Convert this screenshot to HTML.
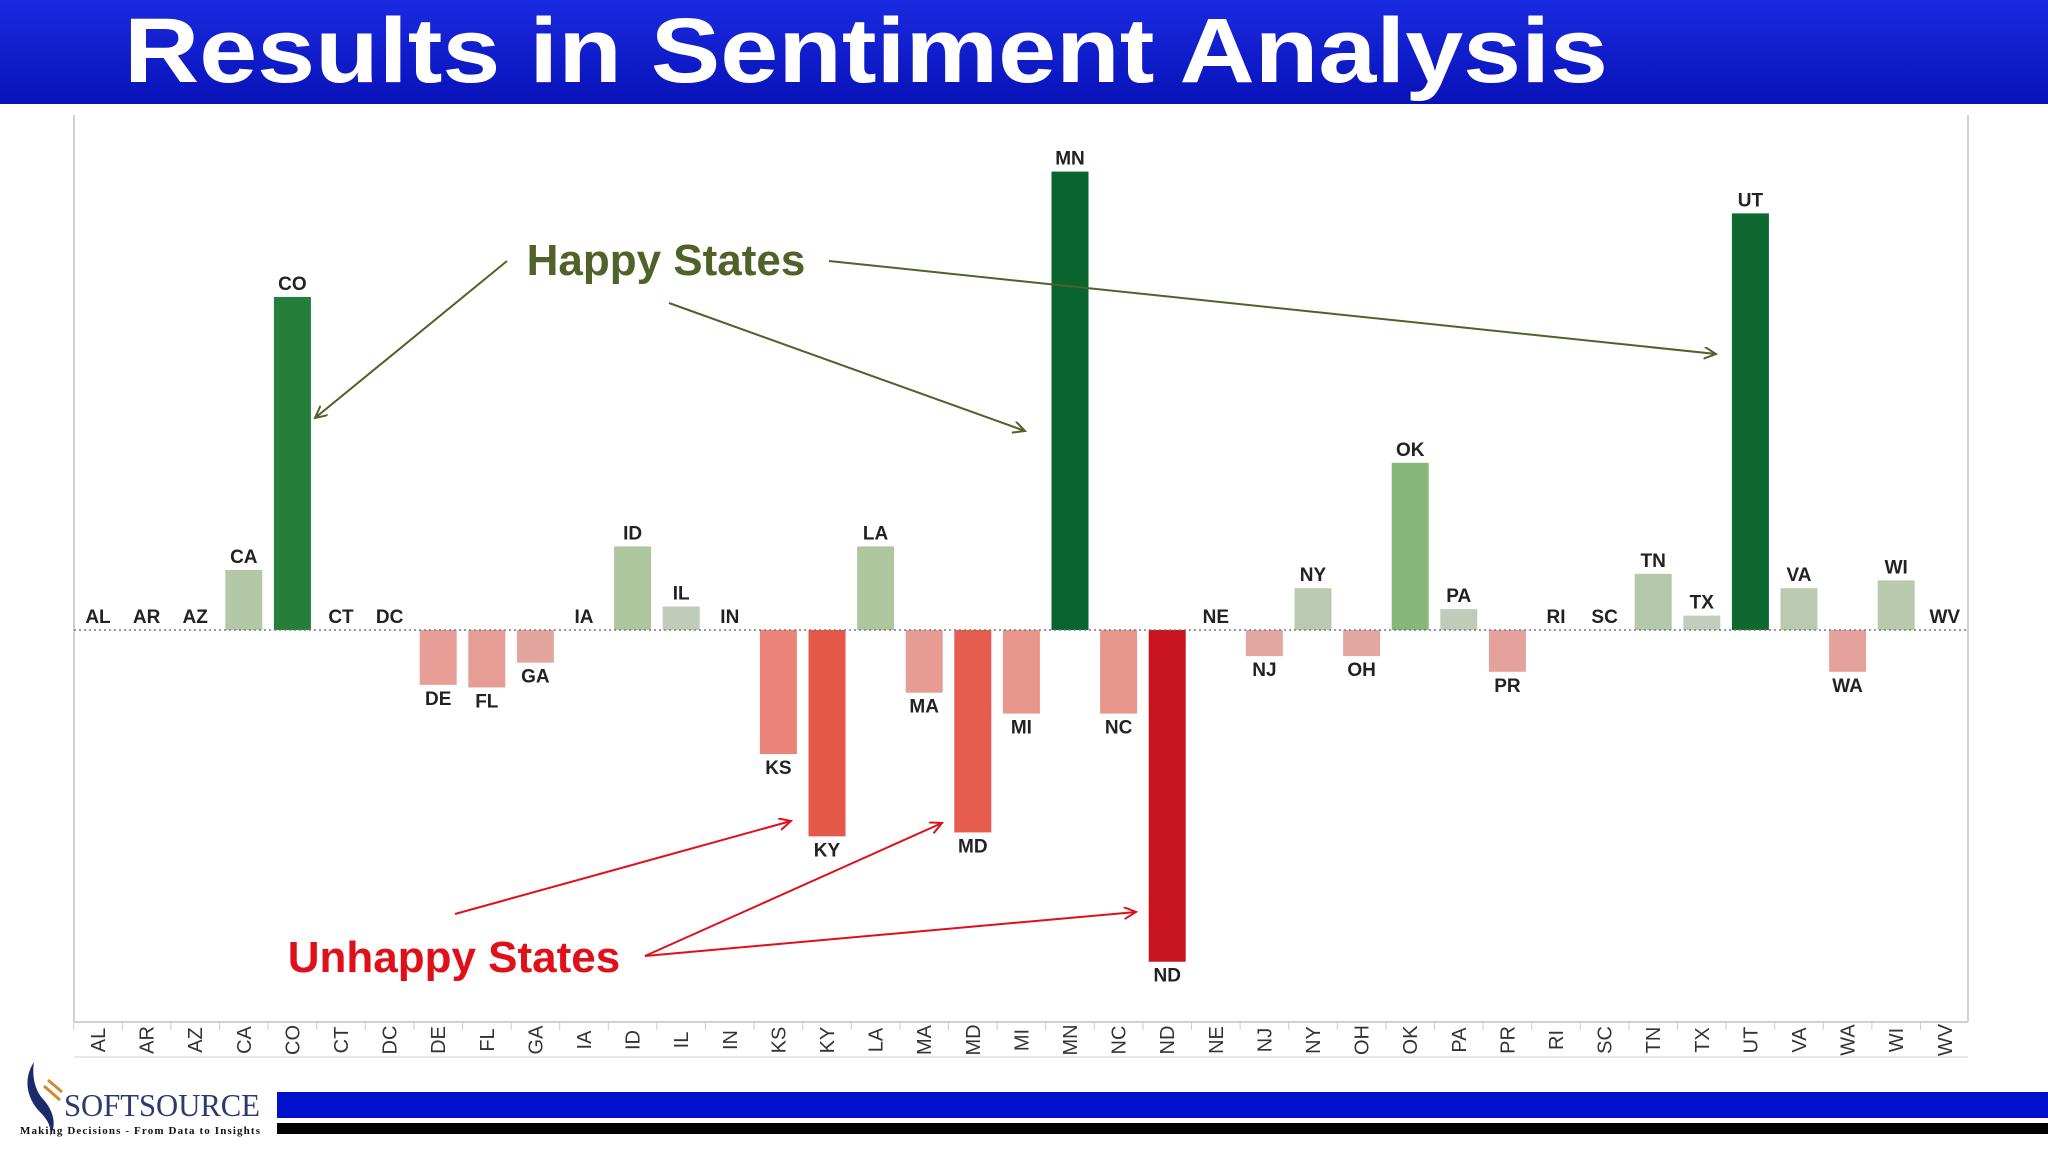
<!DOCTYPE html>
<html><head><meta charset="utf-8"><style>
html,body{margin:0;padding:0;background:#fff;width:2048px;height:1152px;overflow:hidden}
svg{display:block;font-family:"Liberation Sans",sans-serif}
</style></head><body>
<svg id="c" width="2048" height="1152" viewBox="0 0 2048 1152" xmlns="http://www.w3.org/2000/svg">
<defs>
<linearGradient id="tg" x1="0" y1="0" x2="0" y2="1"><stop offset="0" stop-color="#1a2ae0"/><stop offset="1" stop-color="#0812b8"/></linearGradient>
<marker id="ag" markerWidth="14" markerHeight="14" refX="12" refY="6" orient="auto" markerUnits="userSpaceOnUse"><path d="M0,0 L12,6 L0,12" fill="none" stroke="#4f6228" stroke-width="2"/></marker>
<marker id="ar" markerWidth="14" markerHeight="14" refX="12" refY="6" orient="auto" markerUnits="userSpaceOnUse"><path d="M0,0 L12,6 L0,12" fill="none" stroke="#e0101a" stroke-width="2"/></marker>
</defs>
<rect x="0" y="0" width="2048" height="104" fill="url(#tg)"/>
<text x="124" y="82" font-size="92" font-weight="bold" fill="#fff" textLength="1484" lengthAdjust="spacingAndGlyphs">Results in Sentiment Analysis</text>
<line x1="74" y1="115" x2="74" y2="1022" stroke="#d0d0d0" stroke-width="2"/>
<line x1="1968" y1="115" x2="1968" y2="1022" stroke="#d0d0d0" stroke-width="2"/>
<line x1="74" y1="1022" x2="1968" y2="1022" stroke="#d0d0d0" stroke-width="2"/>
<line x1="74" y1="1057" x2="1968" y2="1057" stroke="#e0e0e0" stroke-width="1.5"/>
<g id="bars"></g>
<line x1="74" y1="630" x2="1968" y2="630" stroke="#777" stroke-width="1.5" stroke-dasharray="2,3"/>
<g id="labels"></g>
<g id="ticks"></g>
<text x="666" y="275" font-size="44" font-weight="bold" fill="#4f6228" text-anchor="middle">Happy States</text>
<text x="454" y="972" font-size="44" font-weight="bold" fill="#e0101a" text-anchor="middle">Unhappy States</text>
<g fill="none" stroke="#4f6228" stroke-width="2">
<line x1="507" y1="261" x2="315" y2="418" marker-end="url(#ag)"/>
<line x1="669" y1="303" x2="1025" y2="431" marker-end="url(#ag)"/>
<line x1="829" y1="261" x2="1716" y2="354" marker-end="url(#ag)"/>
</g>
<g fill="none" stroke="#e0101a" stroke-width="2">
<line x1="455" y1="914" x2="791" y2="821" marker-end="url(#ar)"/>
<line x1="645" y1="956" x2="942" y2="823" marker-end="url(#ar)"/>
<line x1="645" y1="956" x2="1136" y2="912" marker-end="url(#ar)"/>
</g>
<g>
<path d="M34,1062 C22,1080 28,1100 40,1112 C48,1120 52,1128 50,1136 C58,1124 52,1108 42,1098 C34,1088 32,1074 34,1062Z" fill="#1a2a6a"/>
<path d="M44,1086 L60,1100 M48,1080 L62,1092" stroke="#d08a30" stroke-width="3"/>
<text x="64" y="1116" font-family="Liberation Serif,serif" font-size="32" fill="#2a3a70" textLength="196" lengthAdjust="spacingAndGlyphs">SOFTSOURCE</text>
<text x="20" y="1134" font-family="Liberation Serif,serif" font-size="11" font-weight="bold" fill="#111" textLength="240">Making Decisions - From Data to Insights</text>
</g>
<rect x="277" y="1092" width="1771" height="26" fill="#0010cc"/>
<rect x="277" y="1123" width="1771" height="11" fill="#000"/>
</svg>
<script>
const states=["AL","AR","AZ","CA","CO","CT","DC","DE","FL","GA","IA","ID","IL","IN","KS","KY","LA","MA","MD","MI","MN","NC","ND","NE","NJ","NY","OH","OK","PA","PR","RI","SC","TN","TX","UT","VA","WA","WI","WV"];
const sentiment=[0,0,0,46,255,0,0,-42,-44,-25,0,64,18,0,-95,-158,64,-48,-155,-64,351,-64,-254,0,-20,32,-20,128,16,-32,0,0,43,11,319,32,-32,38,0];
const NS="http://www.w3.org/2000/svg";
const x0=98,step=48.6,bw=37,base=630,k=1.306;
function xS(i){return x0+i*step;}
function yS(v){return base-v*k;}
function mix(a,b,t){return a.map((c,j)=>Math.round(c+(b[j]-c)*t));}
function ramp(stops,t){const n=stops.length-1,p=Math.min(n-1e-9,t*n),i=Math.floor(p);return mix(stops[i],stops[i+1],p-i);}
function color(v){
  if(v>0){const t=Math.min(1,v/330);return "rgb("+ramp([[200,205,195],[165,196,147],[110,175,100],[40,130,60],[10,100,45]],t).join(",")+")";}
  const t=Math.min(1,-v/250);return "rgb("+ramp([[225,175,172],[232,150,140],[238,115,103],[220,64,48],[200,20,30]],t).join(",")+")";
}
const gb=document.getElementById("bars"),gl=document.getElementById("labels"),gt=document.getElementById("ticks");
states.forEach((s,i)=>{
  const v=sentiment[i],cx=xS(i);
  if(v!==0){
    const r=document.createElementNS(NS,"rect");
    r.setAttribute("x",cx-bw/2);r.setAttribute("width",bw);
    r.setAttribute("y",Math.min(yS(v),base));r.setAttribute("height",Math.abs(v*k));
    r.setAttribute("fill",color(v));
    
    
    gb.appendChild(r);
  }
  const t=document.createElementNS(NS,"text");
  t.setAttribute("x",cx);t.setAttribute("text-anchor","middle");
  t.setAttribute("font-size","19");t.setAttribute("font-weight","bold");t.setAttribute("fill","#222");
  t.setAttribute("y",v>=0?yS(v)-7:yS(v)+20);
  t.textContent=s;
  
  
  gl.appendChild(t);
  const tk=document.createElementNS(NS,"text");
  tk.setAttribute("transform","translate("+(cx+7)+",1040) rotate(-90)");
  tk.setAttribute("text-anchor","middle");tk.setAttribute("font-size","20");tk.setAttribute("fill","#333");
  tk.textContent=s;
  
  
  gt.appendChild(tk);
  const tm=document.createElementNS(NS,"line");
  tm.setAttribute("x1",cx-step/2);tm.setAttribute("x2",cx-step/2);tm.setAttribute("y1",1022);tm.setAttribute("y2",1030);
  tm.setAttribute("stroke","#ccc");
  
  
  gt.appendChild(tm);
});
</script>
</body></html>
